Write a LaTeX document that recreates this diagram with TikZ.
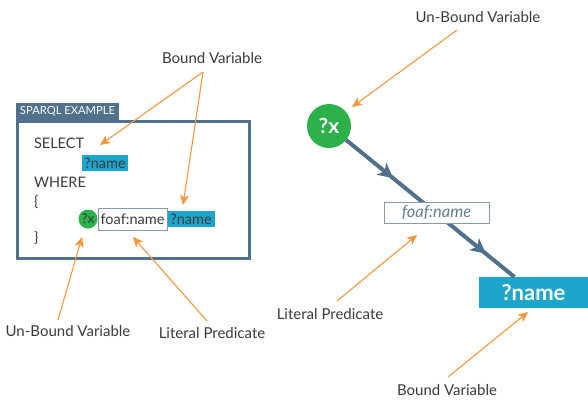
\documentclass[tikz,border=0pt]{standalone}
\usepackage{fontspec}
\setmainfont{Lato}
\usetikzlibrary{arrows.meta,decorations.markings}

\definecolor{slate}{HTML}{50708C}
\definecolor{boundcyan}{HTML}{1DA5CC}
\definecolor{unboundgreen}{HTML}{2BB04A}
\definecolor{callorange}{HTML}{F7963A}
\definecolor{labelgray}{HTML}{3A3A3A}

\begin{document}
\begin{tikzpicture}[x=1pt, y=-1pt,
  every node/.style={inner sep=0pt, outer sep=0pt, text=labelgray, font=\fontsize{15}{17}\selectfont},
  callout/.style={draw=callorange, line width=1.1pt, -{Stealth[length=10pt, width=9pt, inset=2.5pt]}},
  code/.style={anchor=west, font=\fontsize{14.5}{16}\selectfont},
  bound/.style={fill=boundcyan, minimum height=16, text=labelgray, font=\fontsize{14.5}{16}\selectfont},
  flow/.style={draw=slate, line width=4pt,
    postaction={decorate, decoration={markings,
      mark=at position 0.28 with {\arrow{Stealth[length=15pt, width=15pt, inset=4pt]}},
      mark=at position 0.83 with {\arrow{Stealth[length=15pt, width=15pt, inset=4pt]}}}}}]
\useasboundingbox (0,0) rectangle (588,400);

% sparql example box
\node[fill=slate, minimum width=103, minimum height=17, anchor=north west] (tab) at (16,103) {};
\node[text=white, font=\fontsize{11.2}{13}\selectfont] (tabtext) at (67.5,111.5) {SPARQL EXAMPLE};
\node[draw=slate, line width=3pt, minimum width=232, minimum height=137, anchor=north west] (sparql) at (17.5,121.5) {};

\node[code] (select) at (34,143) {SELECT};
\node[bound, anchor=west, minimum width=46] (selname) at (82,163) {?name};
\node[code] (where) at (34,182) {WHERE};
\node[code] (open) at (34,202) {\{};
\node[fill=unboundgreen, circle, minimum size=19, font=\fontsize{13.5}{14}\selectfont] (xsmall) at (88,219) {?x};
\node[draw=slate!70, line width=1pt, fill=white, minimum width=69, minimum height=22, font=\fontsize{14.5}{16}\selectfont] (foafsmall) at (132.5,219.5) {foaf:name};
\node[bound, anchor=west, minimum width=47] (rowname) at (167.5,219) {?name};
\node[code] (close) at (34,238) {\}};

% callouts, left
\node (boundtop) at (212,58) {Bound Variable};
\coordinate (bv) at (203,72);
\coordinate (selecttip) at (100,145);
\coordinate (rowtip) at (183,205);
\draw[callout] (bv) -- (selecttip);
\draw[callout] (bv) -- (rowtip);

\node (unboundleft) at (68,331) {Un-Bound Variable};
\coordinate (ubl) at (58,320);
\coordinate (xsmalltip) at (82,237);
\draw[callout] (ubl) -- (xsmalltip);

\node (literalleft) at (212,333) {Literal Predicate};
\coordinate (lpl) at (207,321);
\coordinate (foafsmalltip) at (133,237);
\draw[callout] (lpl) -- (foafsmalltip);

% graph, right
\node[fill=unboundgreen, circle, minimum size=44, text=white, font=\fontsize{21}{22}\bfseries\selectfont] (x) at (329,126) {?x};
\node[fill=boundcyan, minimum width=109, minimum height=31, text=white, font=\fontsize{22}{24}\bfseries\selectfont] (name) at (533.5,292.5) {?name};
\draw[flow] (x) -- (name);
\node[draw=slate!70, line width=1pt, fill=white, minimum width=105, minimum height=21, text=slate!90, font=\fontsize{16.5}{18}\itshape\selectfont] (foaf) at (436.5,212.5) {foaf:name};

% callouts, right
\node (unboundright) at (478,17) {Un-Bound Variable};
\coordinate (ubr) at (457,30);
\coordinate (xtip) at (352,107);
\draw[callout] (ubr) -- (xtip);

\node (literalright) at (330,314) {Literal Predicate};
\coordinate (lpr) at (337,301);
\coordinate (foaftip) at (417,235);
\draw[callout] (lpr) -- (foaftip);

\node (boundright) at (447,390) {Bound Variable};
\coordinate (bvr) at (448,377);
\coordinate (nametip) at (528,312);
\draw[callout] (bvr) -- (nametip);
\end{tikzpicture}
\end{document}
